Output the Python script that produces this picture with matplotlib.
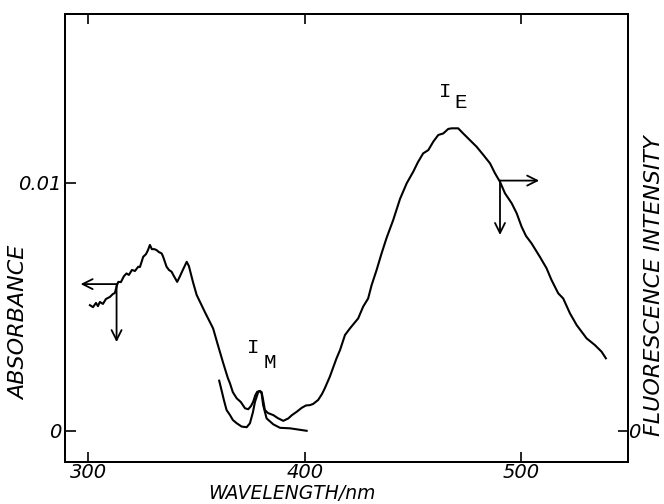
#!/usr/bin/env python3
"""Absorption and fluorescence spectra with I_M / I_E bands (scanned figure redraw)."""

import matplotlib
matplotlib.use("Agg")
import matplotlib.pyplot as plt

# Absorption spectrum (absorbance vs wavelength, nm)
abs_wl = [300.7, 302.1, 303.5, 304.4, 305.3, 306.7, 308.1, 309.9, 311.3, 312.2,
          313.2, 313.8, 315.0, 316.4, 317.6, 318.7, 320.1, 321.5, 323.0, 323.8,
          325.3, 326.6, 327.5, 328.4, 329.3, 330.5, 331.5, 332.6, 333.8, 334.4,
          336.1, 337.2, 338.4, 339.5, 341.0, 342.3, 343.6, 345.4, 346.4, 348.3,
          350.0, 353.8, 357.6, 359.8, 362.3, 364.4, 365.4, 366.7, 368.5, 370.4,
          372.3, 373.8, 375.1, 376.1, 377.1, 378.0, 379.2, 380.0, 380.7, 382.3,
          385.4, 388.5, 393.1, 396.2, 400.8]
abs_val = [0.00506, 0.00498, 0.00515, 0.00502, 0.00519, 0.00511, 0.00531, 0.00539, 0.00551, 0.00555,
           0.00587, 0.00600, 0.00599, 0.00623, 0.00634, 0.00628, 0.00648, 0.00644, 0.00661, 0.00660,
           0.00701, 0.00712, 0.00728, 0.00749, 0.00732, 0.00732, 0.00728, 0.00720, 0.00715, 0.00704,
           0.00661, 0.00648, 0.00641, 0.00623, 0.00600, 0.00623, 0.00648, 0.00681, 0.00664, 0.00599,
           0.00547, 0.00478, 0.00412, 0.00345, 0.00271, 0.00212, 0.00190, 0.00155, 0.00130, 0.00115,
           0.00090, 0.00086, 0.00099, 0.00116, 0.00143, 0.00157, 0.00159, 0.00150, 0.00103, 0.00049,
           0.00025, 0.00011, 0.00009, 0.00005, -0.00001]

# Fluorescence spectrum (relative intensity, peak = 1)
fl_wl = [360.4, 361.7, 362.6, 363.8, 365.4, 366.7, 368.5, 370.8, 373.1, 374.6,
         376.0, 376.9, 378.4, 379.2, 380.0, 380.7, 381.5, 382.9, 385.4, 387.5,
         390.0, 392.3, 394.0, 396.2, 398.5, 400.5, 402.3, 403.8, 406.1, 407.9,
         409.2, 411.5, 414.6, 416.2, 418.5, 420.8, 424.6, 426.9, 429.2, 430.8,
         433.1, 435.4, 437.7, 440.8, 443.9, 447.0, 450.0, 452.2, 454.6, 457.0,
         459.3, 461.6, 463.9, 466.2, 467.8, 470.8, 473.1, 476.2, 479.3, 482.4,
         485.5, 487.8, 490.1, 492.4, 495.5, 497.8, 500.1, 502.1, 504.7, 508.5,
         511.6, 513.9, 517.0, 519.3, 522.4, 525.5, 530.1, 533.9, 537.0, 539.0]
fl_val = [0.165, 0.127, 0.100, 0.068, 0.051, 0.035, 0.024, 0.013, 0.011, 0.024,
          0.061, 0.094, 0.127, 0.131, 0.127, 0.101, 0.068, 0.058, 0.051, 0.041,
          0.032, 0.040, 0.051, 0.062, 0.075, 0.083, 0.084, 0.088, 0.101, 0.121,
          0.140, 0.178, 0.239, 0.266, 0.316, 0.338, 0.371, 0.410, 0.437, 0.481,
          0.531, 0.586, 0.637, 0.697, 0.766, 0.818, 0.856, 0.888, 0.917, 0.928,
          0.956, 0.978, 0.983, 0.998, 1.000, 1.000, 0.983, 0.961, 0.939, 0.912,
          0.884, 0.851, 0.823, 0.785, 0.752, 0.719, 0.674, 0.644, 0.619, 0.575,
          0.537, 0.498, 0.454, 0.437, 0.388, 0.349, 0.305, 0.283, 0.261, 0.239]

x_ticks = [300, 400, 500]
abs_ticks = [0, 0.01]
abs_tick_labels = ["0", "0.01"]
fl_ticks = [0]
fl_tick_labels = ["0"]

# Axis-pointer arrows: (wavelength, value) of the corner, plus arrow tips
abs_arrow = (313.0, 0.00591)
abs_arrow_left = 296.4
abs_arrow_down = 0.00357
fl_arrow = (490.1, 0.827)
fl_arrow_right = 508.2
fl_arrow_down = 0.647

LABEL_FONT = dict(family="DejaVu Sans", style="italic", fontsize=16)
TICK_FONT = dict(family="DejaVu Sans", style="italic", fontsize=14)
BAND_FONT = dict(family="Liberation Mono", fontsize=15)

fig = plt.figure(figsize=(6.64, 5.04), dpi=100)
ax = fig.add_axes([0.0986, 0.0833, 0.8471, 0.8899])
ax2 = ax.twinx()

ax.set_xlim(289.4, 549.2)
ax.set_ylim(-0.00127, 0.01683)
ax2.set_ylim(-0.1042, 1.3799)

ax.plot(abs_wl, abs_val, color="black", lw=1.5)
ax2.plot(fl_wl, fl_val, color="black", lw=1.5)

arrow = dict(arrowstyle="->", color="black", lw=1.3, mutation_scale=18,
             shrinkA=0, shrinkB=0)
ax.annotate("", xy=(abs_arrow_left, abs_arrow[1]), xytext=abs_arrow, arrowprops=arrow)
ax.annotate("", xy=(abs_arrow[0], abs_arrow_down), xytext=abs_arrow, arrowprops=arrow)
ax2.annotate("", xy=(fl_arrow_right, fl_arrow[1]), xytext=fl_arrow, arrowprops=arrow)
ax2.annotate("", xy=(fl_arrow[0], fl_arrow_down), xytext=fl_arrow, arrowprops=arrow)

# band labels
ax.text(464.7, 0.01370, "I", ha="center", va="center", **BAND_FONT)
ax.text(472.1, 0.01322, "E", ha="center", va="center", **BAND_FONT)
ax.text(376.0, 0.00335, "I", ha="center", va="center", **BAND_FONT)
ax.text(383.6, 0.00276, "M", ha="center", va="center", **BAND_FONT)

# ticks
ax.set_xticks(x_ticks)
ax.set_xticklabels([str(t) for t in x_ticks], **TICK_FONT)
ax.set_yticks(abs_ticks)
ax.set_yticklabels(abs_tick_labels, **TICK_FONT)
ax2.set_yticks(fl_ticks)
ax2.set_yticklabels(fl_tick_labels, **TICK_FONT)
ax.tick_params(axis="x", direction="in", top=True, length=7, width=1.2, pad=1)
ax.tick_params(axis="y", direction="in", length=8, width=1.2, pad=3)
ax2.tick_params(axis="y", direction="in", length=7, width=1.2, pad=0)

for a in (ax, ax2):
    for s in a.spines.values():
        s.set_linewidth(1.4)

fig.text(0.4398, 0.001, "WAVELENGTH/nm", ha="center", va="bottom",
         family="DejaVu Sans", style="italic", fontsize=13.5)
fig.text(0.0286, 0.36, "ABSORBANCE", ha="center", va="center", rotation=90, **LABEL_FONT)
fig.text(0.985, 0.434, "FLUORESCENCE INTENSITY", ha="center", va="center", rotation=90,
         **LABEL_FONT)

fig.savefig("out.png", dpi=100, facecolor="white")
